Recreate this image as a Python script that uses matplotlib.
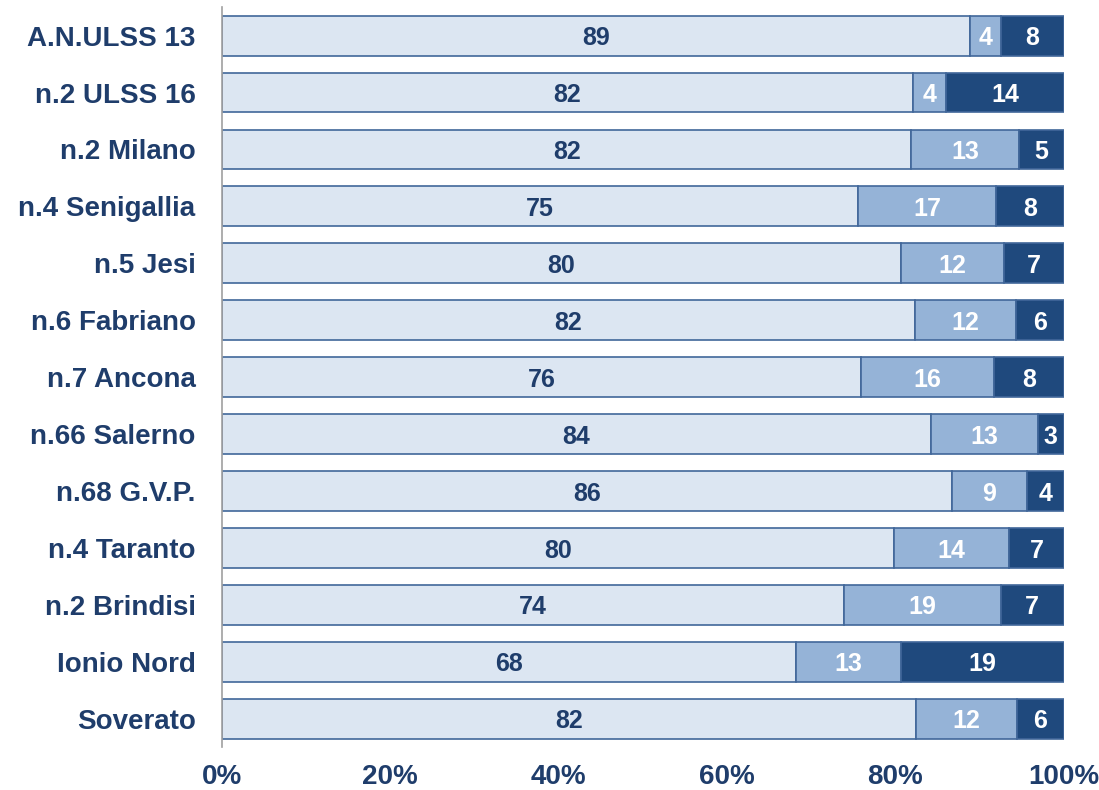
import matplotlib.pyplot as plt
from matplotlib.ticker import PercentFormatter

plt.rcParams['font.family'] = ['Liberation Sans', 'DejaVu Sans']

# ASL / ULSS
categories = ["A.N.ULSS 13", "n.2 ULSS 16", "n.2 Milano", "n.4 Senigallia", "n.5 Jesi",
              "n.6 Fabriano", "n.7 Ancona", "n.66 Salerno", "n.68 G.V.P.", "n.4 Taranto",
              "n.2 Brindisi", "Ionio Nord", "Soverato"]

# valori stimati dalla lunghezza delle barre (%)
serie1 = [88.8, 82.1, 81.9, 75.5, 80.6, 82.3, 75.9, 84.2, 86.7, 79.8, 73.9, 68.2, 82.4]
serie2 = [3.7, 3.9, 12.8, 16.5, 12.3, 12.0, 15.8, 12.7, 8.9, 13.7, 18.6, 12.4, 12.0]
serie3 = [7.5, 14.0, 5.3, 8.0, 7.1, 5.7, 8.3, 3.1, 4.4, 6.5, 7.5, 19.4, 5.6]

# etichette come nel grafico originale
lab1 = [89, 82, 82, 75, 80, 82, 76, 84, 86, 80, 74, 68, 82]
lab2 = [4, 4, 13, 17, 12, 12, 16, 13, 9, 14, 19, 13, 12]
lab3 = [8, 14, 5, 8, 7, 6, 8, 3, 4, 7, 7, 19, 6]

navy = '#1F3D6B'
colori = ['#DCE6F2', '#95B3D7', '#1F497D']
col_testo = [navy, 'white', 'white']

fig = plt.figure(figsize=(10.99, 7.9), dpi=100)
ax = fig.add_axes([0.202, 0.054, 0.766, 0.937])

y = list(range(len(categories)))
left = [0] * len(categories)
for vals, labs, c, tc in zip([serie1, serie2, serie3], [lab1, lab2, lab3], colori, col_testo):
    ax.barh(y, vals, left=left, height=0.7, color=c, edgecolor='#41679A', linewidth=1.2)
    for i in y:
        ax.text(left[i] + vals[i] / 2, i, str(labs[i]), ha='center', va='center_baseline',
                color=tc, fontsize=18, fontweight='bold')
    left = [a + b for a, b in zip(left, vals)]

ax.set_ylim(len(categories) - 0.5, -0.5)
ax.set_xlim(0, 100)
ax.set_yticks(y)
ax.set_yticklabels(categories, fontsize=20, fontweight='bold', color=navy)
ax.set_xticks([0, 20, 40, 60, 80, 100])
ax.xaxis.set_major_formatter(PercentFormatter(decimals=0))
for t in ax.get_xticklabels():
    t.set_fontsize(20)
    t.set_fontweight('bold')
    t.set_color(navy)
ax.tick_params(length=0)
ax.tick_params(axis='y', pad=19)
ax.tick_params(axis='x', pad=12)

for s in ['top', 'right', 'bottom']:
    ax.spines[s].set_visible(False)
ax.spines['left'].set_color('#A0A0A0')
ax.spines['left'].set_linewidth(1.2)

fig.savefig('out.png', dpi=100)
